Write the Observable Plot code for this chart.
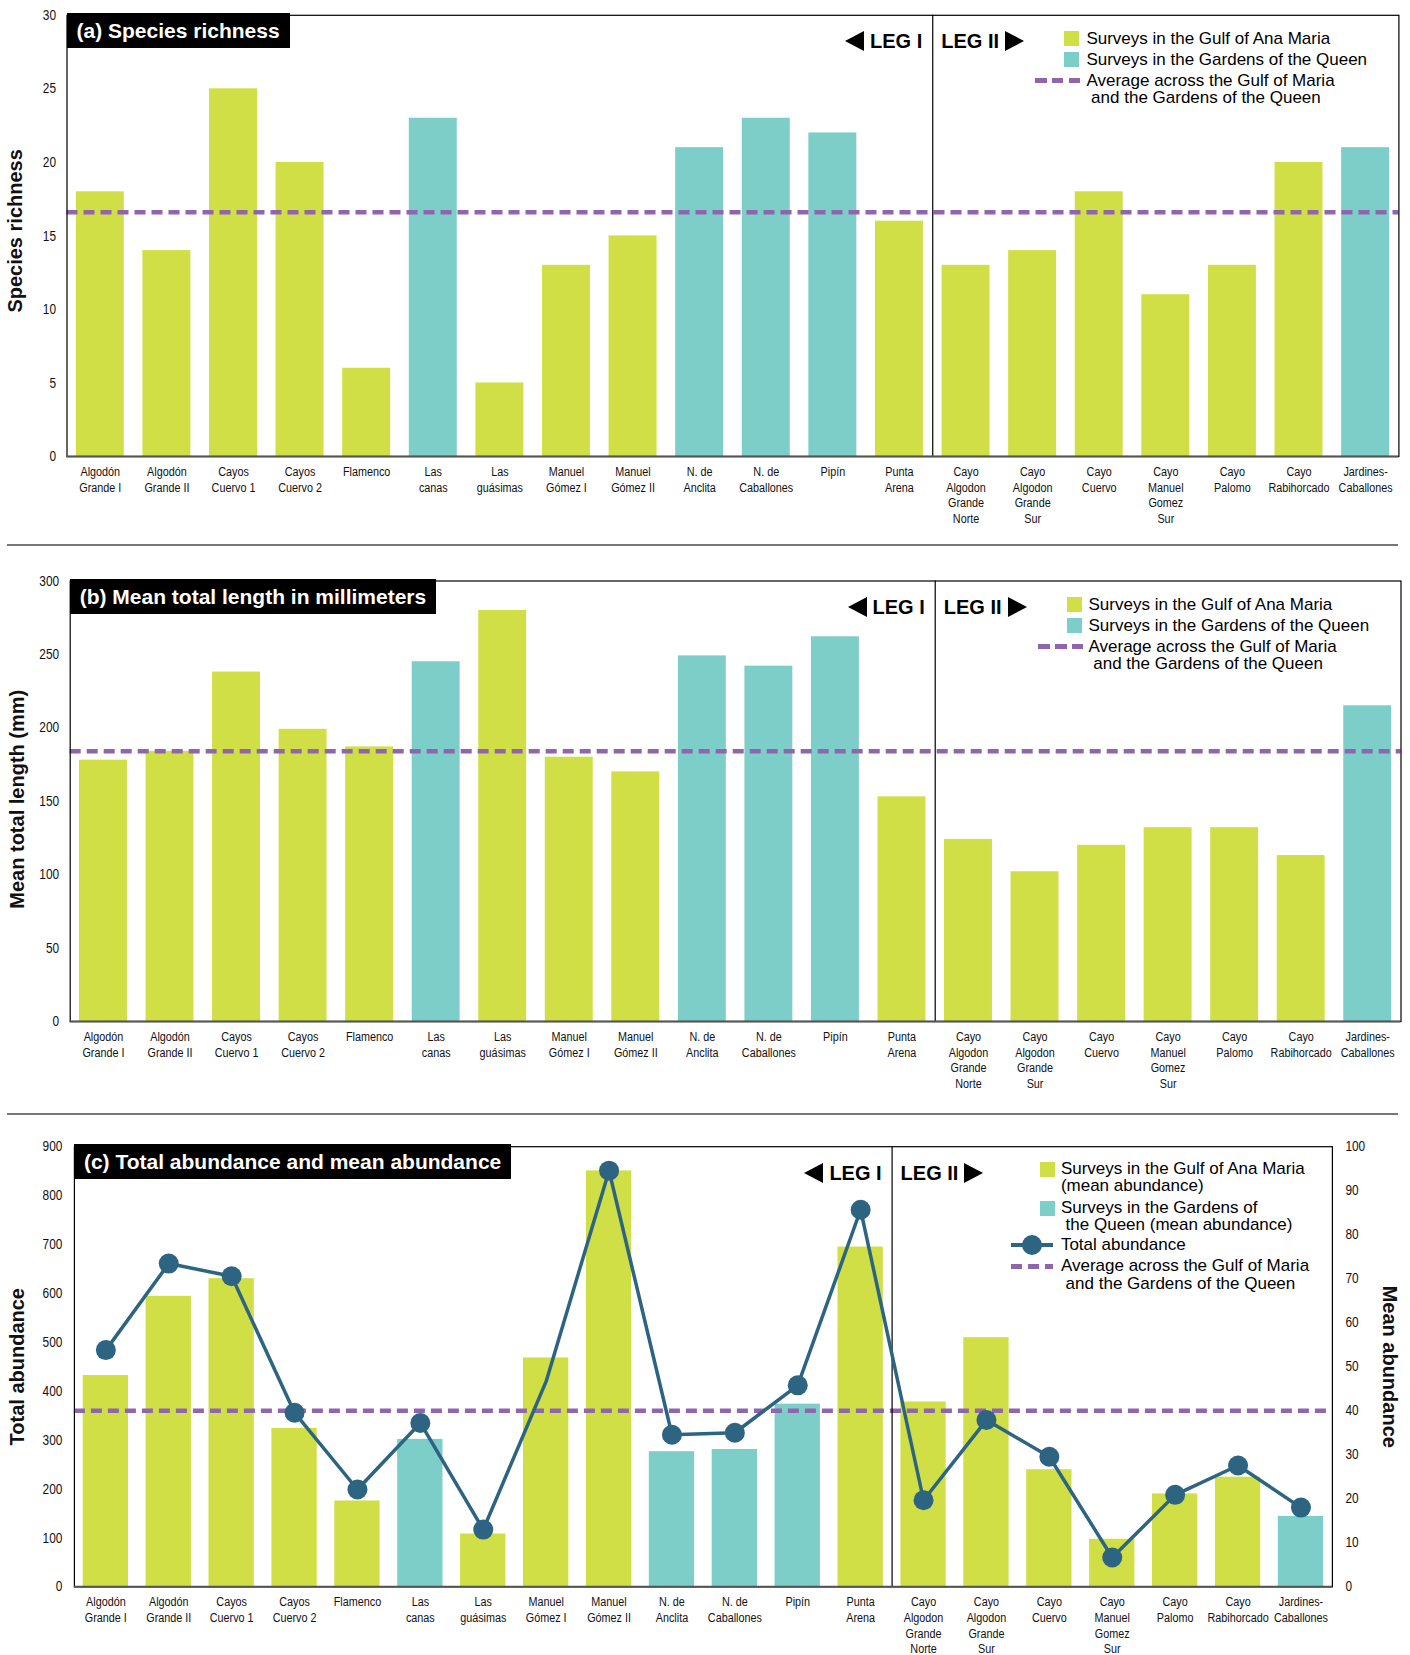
<!DOCTYPE html>
<html>
<head>
<meta charset="utf-8">
<script src="https://cdn.jsdelivr.net/npm/d3@7"></script>
<script src="https://cdn.jsdelivr.net/npm/@observablehq/plot@0.6"></script>
<style>
  html,body{margin:0;padding:0;background:#fff;}
  #root{position:relative;width:1410px;height:1655px;overflow:hidden;background:#fff;font-family:"Liberation Sans",Arial,Helvetica,sans-serif;color:#000;}
  .layer{position:absolute;left:0;}
  .layer > svg{position:absolute;left:0;top:0;margin:0;}
  .tbox{position:absolute;background:#000;color:#fff;font-weight:bold;font-size:21px;height:35px;line-height:35px;padding:0 10px;white-space:nowrap;box-sizing:border-box;}
  .leg{position:absolute;display:flex;align-items:center;gap:6px;font-weight:bold;font-size:20px;white-space:nowrap;height:24px;line-height:24px;}
  .tri-l{width:0;height:0;border-top:10.5px solid transparent;border-bottom:10.5px solid transparent;border-right:19px solid #000;}
  .tri-r{width:0;height:0;border-top:10.5px solid transparent;border-bottom:10.5px solid transparent;border-left:19px solid #000;}
  .lg-text{position:absolute;font-size:17px;line-height:20px;white-space:nowrap;}
  .sw{position:absolute;width:15px;height:15px;}
  .hsep{position:absolute;left:7px;width:1391px;height:2px;background:#777;}
</style>
</head>
<body>
<div id="root"></div>
<script>
// ---------------- DATA ----------------
const sites = [
  "Algodón\nGrande I", "Algodón\nGrande II", "Cayos\nCuervo 1", "Cayos\nCuervo 2", "Flamenco",
  "Las\ncanas", "Las\nguásimas", "Manuel\nGómez I", "Manuel\nGómez II", "N. de\nAnclita",
  "N. de\nCaballones", "Pipín", "Punta\nArena", "Cayo\nAlgodon\nGrande\nNorte", "Cayo\nAlgodon\nGrande\nSur",
  "Cayo\nCuervo", "Cayo\nManuel\nGomez\nSur", "Cayo\nPalomo", "Cayo\nRabihorcado", "Jardines-\nCaballones"
];
const regions = [
  "Gulf","Gulf","Gulf","Gulf","Gulf",
  "Gardens","Gulf","Gulf","Gulf","Gardens",
  "Gardens","Gardens","Gulf","Gulf","Gulf",
  "Gulf","Gulf","Gulf","Gulf","Gardens"
];
const regionKeys = ["Gulf", "Gardens"];
const legIIStart = "Cayo\nAlgodon\nGrande\nNorte";

const speciesRichness = [18,14,25,20,6,23,5,13,15,21,23,22,16,13,14,18,11,13,20,21];
const richnessAverage = 16.6;
const richnessTicks = [0,5,10,15,20,25,30];

const meanLength = [178,184,238,199,187,245,280,180,170,249,242,262,153,124,102,120,132,132,113,215];
const lengthAverage = 184;
const lengthTicks = [0,50,100,150,200,250,300];

const meanAbundance = [48,66,70,36,19.5,33.5,12,52,94.5,30.7,31.2,41.5,77.2,42,56.6,26.6,10.8,21.1,24.9,16];
const totalAbundance = [484,661,635,356,199,335,117,420,851,311,315,412,771,177,341,266,60,188,248,162];
const totalHasMarker = [true,true,true,true,true,true,true,false,true,true,true,true,true,true,true,true,true,true,true,true];
const abundanceAverage = 40;
const totalTicks = [0,100,200,300,400,500,600,700,800,900];
const meanTicks = [0,10,20,30,40,50,60,70,80,90,100];

// ---------------- STYLE ----------------
const W = 1410;
const YELLOW = "#cfdf45", TEAL = "#7dcdc8", PURPLE = "#8f65ad", LINEC = "#2d6482";
const FONT = '"Liberation Sans", Arial, Helvetica, sans-serif';

const root = document.getElementById("root");
function el(cls, css, html) {
  const d = document.createElement("div");
  if (cls) d.className = cls;
  Object.assign(d.style, css);
  if (html != null) d.innerHTML = html;
  root.appendChild(d);
  return d;
}
function layer(top, height) {
  return el("layer", {top: top + "px", width: W + "px", height: height + "px"});
}
// condense tick labels horizontally (reference uses a condensed face)
function condense(chart) {
  chart.querySelectorAll('[aria-label="x-axis tick label"] text').forEach(t => {
    t.setAttribute("transform", (t.getAttribute("transform") || "") + " scale(0.8,1)");
  });
  chart.querySelectorAll('[aria-label="y-axis tick label"] text').forEach(t => {
    t.setAttribute("transform", (t.getAttribute("transform") || "") + " scale(0.82,1)");
  });
  return chart;
}

function barChart(cfg, values) {
  const data = sites.map((s, i) => ({site: s, value: values[i], region: regions[i]}));
  const step = (W - cfg.ml - cfg.mr) / sites.length;
  const marks = [
    Plot.barY(data, {x: "site", y: "value", fill: "region"}),
    Plot.ruleY([cfg.avg], {stroke: PURPLE, strokeWidth: 4.5, strokeDasharray: "11,6"}),
    Plot.ruleX([legIIStart], {x: d => d, dx: -step / 2, stroke: "#000", strokeWidth: 1.2}),
    Plot.frame({stroke: "#000", strokeWidth: 1.2}),
    Plot.ruleY([0], {stroke: "#555", strokeWidth: 2}),
    Plot.axisX({tickSize: 0, tickPadding: 8, fontSize: 13.5, lineHeight: 1.17, fontFamily: FONT, label: null})
  ];
  if (cfg.rightAxis) {
    marks.push(Plot.axisY({anchor: "right", ticks: cfg.ticks, tickSize: 0, tickPadding: 13, fontSize: 14.5, fontFamily: FONT, label: null}));
    marks.push(Plot.text([cfg.rightTitle], {text: d => d, frameAnchor: "right", textAnchor: "middle", rotate: 90, dx: 57, fontWeight: "bold", fontSize: 20, fontFamily: FONT}));
  } else {
    marks.push(Plot.axisY({ticks: cfg.ticks, tickSize: 0, tickPadding: 11, fontSize: 14.5, fontFamily: FONT, label: null}));
    marks.push(Plot.text([cfg.yTitle], {text: d => d, frameAnchor: "left", textAnchor: "middle", rotate: -90, dx: cfg.titleDx, dy: cfg.titleDy || 0, fontWeight: "bold", fontSize: 20, fontFamily: FONT}));
  }
  return condense(Plot.plot({
    width: W, height: cfg.height,
    marginTop: cfg.mt, marginBottom: cfg.mb, marginLeft: cfg.ml, marginRight: cfg.mr,
    style: {fontFamily: FONT, fontSize: "13px", color: "#111", background: "transparent", overflow: "visible"},
    x: {domain: sites, type: "band", paddingInner: 0.28, paddingOuter: 0.14, round: false, axis: null, label: null},
    y: {domain: cfg.yDomain, axis: null, label: null},
    color: {domain: regionKeys, range: [YELLOW, TEAL]},
    marks
  }));
}

function decorate(cfg, chart, title, legendRows, legendCfg) {
  const frameTop = cfg.top + cfg.mt;
  const frameRight = W - cfg.mr;
  const sx = chart.scale("x");
  const sep = sx.apply(legIIStart) - (sx.step - sx.bandwidth) / 2;
  el("tbox", {left: cfg.ml + "px", top: (frameTop - 2) + "px"}, title);
  const legY = frameTop + 26.5 - 12;
  el("leg", {top: legY + "px", right: (W - (sep - 10)) + "px"}, '<div class="tri-l"></div><span>LEG I</span>');
  el("leg", {top: legY + "px", left: (sep + 9) + "px"}, '<span>LEG II</span><div class="tri-r"></div>');
  for (const r of legendRows) {
    const cy = frameTop + r.dy;
    el("lg-text", {left: (frameRight + legendCfg.text) + "px", top: (cy - 10) + "px"}, r.text);
    if (r.type === "swatch") {
      el("sw", {left: (frameRight + legendCfg.swatch) + "px", top: (cy - 7.5) + "px", background: r.color});
    } else if (r.type === "dash") {
      el(null, {position: "absolute", left: (frameRight + legendCfg.lineL) + "px", top: (cy - 2.5) + "px",
        width: (legendCfg.lineR - legendCfg.lineL) + "px", height: "5px",
        background: `repeating-linear-gradient(90deg, ${PURPLE} 0 11.5px, transparent 11.5px 17px)`});
    } else if (r.type === "line") {
      el(null, {position: "absolute", left: (frameRight + legendCfg.lineL) + "px", top: (cy - 2) + "px",
        width: (legendCfg.lineR - legendCfg.lineL) + "px", height: "4px", background: LINEC});
      const mid = (legendCfg.lineL + legendCfg.lineR) / 2;
      el(null, {position: "absolute", left: (frameRight + mid - 10) + "px", top: (cy - 10) + "px",
        width: "20px", height: "20px", borderRadius: "50%", background: LINEC});
    }
  }
}

// ---------------- PANEL A ----------------
const cfgA = {top: 0, height: 545, mt: 14.8, mb: 89, ml: 66.5, mr: 11.6, yDomain: [0, 30], ticks: richnessTicks,
  avg: richnessAverage, yTitle: "Species richness", titleDx: -51.5, titleDy: -5};
const chartA = barChart(cfgA, speciesRichness);
layer(cfgA.top, cfgA.height).appendChild(chartA);
const abLegendRows = [
  {type: "swatch", color: YELLOW, text: "Surveys in the Gulf of Ana Maria", dy: 24},
  {type: "swatch", color: TEAL, text: "Surveys in the Gardens of the Queen", dy: 45},
  {type: "dash", text: "Average across the Gulf of Maria", dy: 66},
  {type: null, text: "&nbsp;and the Gardens of the Queen", dy: 83.5}
];
const abLegendCfg = {swatch: -334, text: -312, lineL: -363, lineR: -318};
decorate(cfgA, chartA, "(a) Species richness", abLegendRows, abLegendCfg);

el("hsep", {top: "544px"});

// ---------------- PANEL B ----------------
const cfgB = {top: 560, height: 553, mt: 20.5, mb: 92, ml: 69.7, mr: 9.5, yDomain: [0, 300], ticks: lengthTicks,
  avg: lengthAverage, yTitle: "Mean total length (mm)", titleDx: -52.7, titleDy: -2};
const chartB = barChart(cfgB, meanLength);
layer(cfgB.top, cfgB.height).appendChild(chartB);
decorate(cfgB, chartB, "(b) Mean total length in millimeters", abLegendRows, abLegendCfg);

el("hsep", {top: "1113px"});

// ---------------- PANEL C ----------------
const cfgC = {top: 1125, height: 530, mt: 21.2, mb: 68.7, ml: 73.9, mr: 78.1, yDomain: [0, 100], ticks: meanTicks,
  avg: abundanceAverage, rightAxis: true, rightTitle: "Mean abundance"};
const chartC = barChart(cfgC, meanAbundance);
const layerC = layer(cfgC.top, cfgC.height);
layerC.appendChild(chartC);

const lineData = sites.map((s, i) => ({site: s, value: totalAbundance[i], marker: totalHasMarker[i]}));
const chartC2 = condense(Plot.plot({
  width: W, height: cfgC.height,
  marginTop: cfgC.mt, marginBottom: cfgC.mb, marginLeft: cfgC.ml, marginRight: cfgC.mr,
  style: {fontFamily: FONT, fontSize: "13px", color: "#111", background: "transparent", overflow: "visible"},
  x: {domain: sites, type: "band", paddingInner: 0.28, paddingOuter: 0.14, round: false, axis: null, label: null},
  y: {domain: [0, 900], axis: null, label: null},
  marks: [
    Plot.line(lineData, {x: "site", y: "value", stroke: LINEC, strokeWidth: 3.5}),
    Plot.dot(lineData.filter(d => d.marker), {x: "site", y: "value", r: 10, fill: LINEC}),
    Plot.axisY({ticks: totalTicks, tickSize: 0, tickPadding: 12, fontSize: 14.5, fontFamily: FONT, label: null}),
    Plot.text(["Total abundance"], {text: d => d, frameAnchor: "left", textAnchor: "middle", rotate: -90, dx: -57, fontWeight: "bold", fontSize: 20, fontFamily: FONT})
  ]
}));
layerC.appendChild(chartC2);

decorate(cfgC, chartC, "(c) Total abundance and mean abundance", [
  {type: "swatch", color: YELLOW, text: "Surveys in the Gulf of Ana Maria", dy: 23},
  {type: null, text: "(mean abundance)", dy: 40},
  {type: "swatch", color: TEAL, text: "Surveys in the Gardens of", dy: 62},
  {type: null, text: "&nbsp;the Queen (mean abundance)", dy: 79},
  {type: "line", text: "Total abundance", dy: 99},
  {type: "dash", text: "Average across the Gulf of Maria", dy: 120},
  {type: null, text: "&nbsp;and the Gardens of the Queen", dy: 138}
], {swatch: -292, text: -271, lineL: -321, lineR: -279});
</script>
</body>
</html>
